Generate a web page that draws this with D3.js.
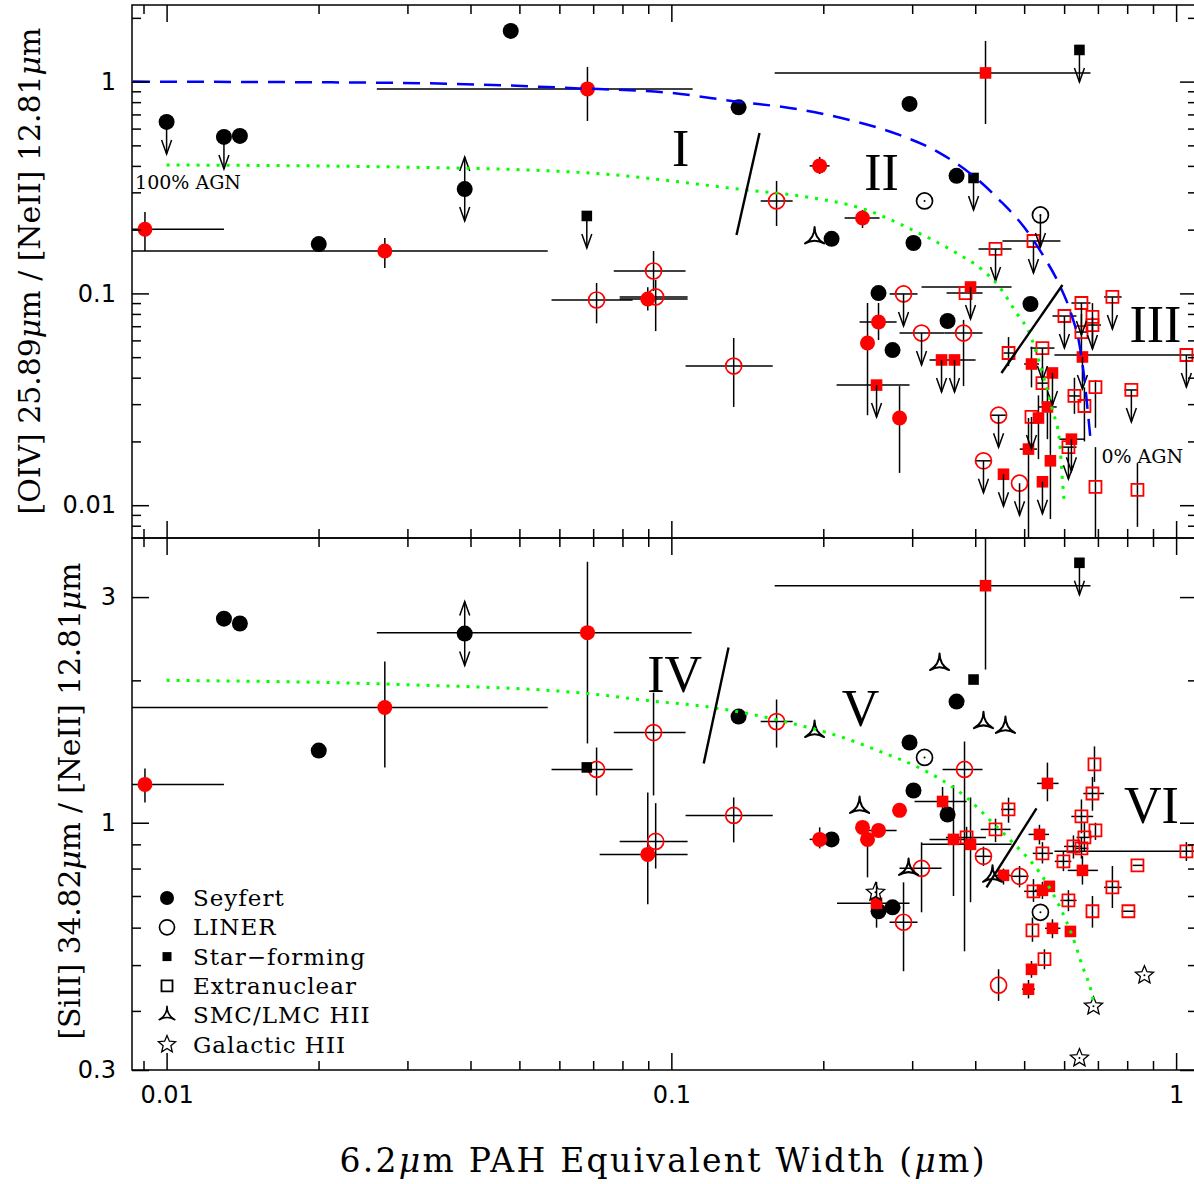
<!DOCTYPE html>
<html>
<head>
<meta charset="utf-8">
<script src="https://cdn.jsdelivr.net/npm/d3@7"></script>
<style>
body { margin: 0; background: #fff; }
svg { display: block; }
.ax line { stroke: #000; stroke-width: 1.5; }
</style>
</head>
<body>
<div id="body"></div>
<script>
// rows: [ew, ratio, colour, ewLo, ewHi, ratioLo, ratioHi, limit]  (0 = no error; 'd' = upper limit, 'b' = both)
const oivSeyfert = [
    [0.0100, 0.645, 'k', 0, 0, 0, 0, 'd'], [0.01299, 0.548, 'k', 0, 0, 0, 0, 'd'], [0.01397, 0.554, 'k'],
    [0.04806, 1.736, 'k'], [0.03896, 0.311, 'k', 0, 0, 0, 0, 'b'], [0.02002, 0.171, 'k'],
    [0.1359, 0.756, 'k'], [0.2964, 0.785, 'k'], [0.3673, 0.359, 'k'], [0.3018, 0.173, 'k'],
    [0.2077, 0.181, 'k'], [0.2573, 0.1004, 'k'], [0.2743, 0.054, 'k'], [0.3526, 0.0741, 'k'], [0.5146, 0.0891, 'k'],
    [0.00906, 0.201, 'r', 0.0085, 0.01299, 0.1586, 0.242], [0.02706, 0.1586, 'r', 0.0085, 0.0569, 0.1318, 0.1827],
    [0.0682, 0.924, 'r', 0.02609, 0.1102, 0.652, 1.173], [0.1967, 0.400, 'r', 0.1879, 0.2058, 0.366, 0.441],
    [0.2392, 0.227, 'r', 0.2204, 0.2585, 0.2037, 0.2477], [0.2573, 0.0733, 'r', 0.2360, 0.2794, 0.0602, 0.0901],
    [0.2447, 0.0583, 'r', 0, 0, 0.0266, 0.0901], [0.2832, 0.0258, 'r', 0, 0, 0.0142, 0.0365],
    [0.0898, 0.0941, 'r', 0.0790, 0.1077, 0.083, 0.107]
];
const oivLiner = [
    [0.3174, 0.2732, 'k'], [0.5385, 0.2346, 'k', 0, 0, 0, 0, 'd'],
    [0.1616, 0.2732, 'r', 0.1503, 0.1739, 0.2081, 0.3396], [0.0922, 0.1276, 'r', 0.0769, 0.1067, 0.1026, 0.1586],
    [0.0711, 0.0931, 'r', 0.0579, 0.0838, 0.0722, 0.112], [0.0931, 0.0962, 'r', 0.0790, 0.1077, 0.0664, 0.1157],
    [0.1329, 0.0454, 'r', 0.1067, 0.1588, 0.0291, 0.0616], [0.2884, 0.0994, 'r', 0.2706, 0.3074, 0, 0, 'd'],
    [0.3131, 0.0650, 'r', 0.2832, 0.3477, 0, 0, 'd'], [0.3792, 0.0650, 'r', 0.3477, 0.4135, 0.0365, 0.075],
    [0.4449, 0.0266, 'r', 0.43, 0.46, 0, 0, 'd'], [0.4153, 0.0162, 'r', 0.40, 0.43, 0, 0, 'd'],
    [0.4896, 0.0127, 'r', 0, 0, 0, 0, 'd']
];
const oivStarForming = [
    [0.6434, 1.411, 'k', 0, 0, 0, 0, 'd'], [0.3969, 0.3508, 'k', 0, 0, 0, 0, 'd'], [0.0680, 0.2321, 'k', 0, 0, 0, 0, 'd'],
    [0.4192, 1.099, 'r', 0.1602, 0.6766, 0.631, 1.557], [0.3915, 0.1072, 'r', 0.3131, 0.4720, 0, 0, 'd'],
    [0.2550, 0.0369, 'r', 0.2125, 0.2964, 0, 0, 'd'], [0.3430, 0.0485, 'r', 0.3247, 0.4006, 0, 0, 'd'],
    [0.3639, 0.0485, 'r', 0, 0, 0, 0, 'd'], [0.5170, 0.0464, 'r', 0.50, 0.535, 0.036, 0.056],
    [0.5689, 0.0421, 'r', 0, 0, 0, 0, 'd'], [0.5560, 0.0291, 'r', 0.535, 0.58, 0.0205, 0.036],
    [0.5337, 0.0258, 'r', 0, 0, 0.0165, 0.033], [0.5100, 0.0184, 'r', 0.49, 0.53, 0.007, 0.0258],
    [0.5636, 0.0162, 'r', 0, 0, 0.0086, 0.0291], [0.4550, 0.0140, 'r', 0, 0, 0, 0, 'd'],
    [0.5435, 0.0129, 'r', 0, 0, 0, 0, 'd'], [0.6203, 0.0205, 'r', 0.5873, 0.6582, 0, 0, 'd'],
    [0.6523, 0.0501, 'r', 0, 0, 0, 0, 'd']
];
const oivExtranuclear = [
    [0.4388, 0.1621, 'r', 0.4060, 0.4720, 0, 0, 'd'], [0.5217, 0.1768, 'r', 0.4529, 0.5900, 0, 0, 'd'],
    [0.3827, 0.1004, 'r', 0.3510, 0.4135], [0.4656, 0.0523, 'r', 0.455, 0.4808, 0.0454, 0.0622],
    [0.5435, 0.0552, 'r', 0.5146, 0.5741, 0, 0, 'd'], [0.5435, 0.0377, 'r', 0.53, 0.56, 0.03, 0.045],
    [0.5170, 0.0261, 'r', 0, 0, 0, 0, 'd'], [0.6008, 0.0782, 'r', 0.5689, 0.6346, 0, 0, 'd'],
    [0.6493, 0.0901, 'r', 0.6203, 0.6766, 0, 0, 'd'], [0.6493, 0.0657, 'r', 0.63, 0.67, 0.05, 0.08],
    [0.6828, 0.0774, 'r', 0, 0, 0, 0, 'd'], [0.6828, 0.0709, 'r', 0.66, 0.71, 0.055, 0.09],
    [0.7478, 0.0962, 'r', 0.72, 0.78, 0, 0, 'd'], [0.6922, 0.0361, 'r', 0, 0, 0.0232, 0.0389],
    [0.6289, 0.0328, 'r', 0.61, 0.645, 0.027, 0.04], [0.6582, 0.0294, 'r', 0, 0, 0.02, 0.036],
    [0.8154, 0.0350, 'r', 0.79, 0.84, 0, 0, 'd'], [1.048, 0.0512, 'r', 0.5741, 1.3, 0, 0, 'd'],
    [0.6119, 0.0188, 'r', 0.59, 0.635, 0, 0, 'd'], [0.6922, 0.0122, 'r', 0, 0, 0.007, 0.0188],
    [0.8383, 0.0118, 'r', 0, 0, 0.0079, 0.0158]
];
const oivMagellanic = [[0.1922, 0.1827]];

const siiSeyfert = [
    [0.01299, 2.701, 'k'], [0.01397, 2.638, 'k'], [0.02002, 1.421, 'k'], [0.03896, 2.512, 'k', 0, 0, 0, 0, 'b'],
    [0.1359, 1.677, 'k'], [0.3673, 1.804, 'k'], [0.2964, 1.478, 'k'], [0.3018, 1.170, 'k'],
    [0.3526, 1.041, 'k'], [0.2077, 0.922, 'k'], [0.2743, 0.6625, 'k'], [0.2573, 0.6498, 'k'],
    [0.00906, 1.205, 'r', 0.0085, 0.01299, 1.104, 1.302], [0.02706, 1.752, 'r', 0.0085, 0.0569, 1.309, 2.192],
    [0.0682, 2.523, 'r', 0.02609, 0.1097, 1.471, 3.563], [0.0898, 0.857, 'r', 0.0721, 0.1077, 0.672, 1.159],
    [0.1967, 0.922, 'r', 0.1879, 0.2058, 0.8826, 0.9775], [0.2392, 0.9775, 'r'],
    [0.2447, 0.922, 'r', 0, 0, 0.7666, 0.98], [0.2573, 0.9634, 'r', 0.2360, 0.2794, 0, 0],
    [0.2832, 1.062, 'r']
];
const siiLiner = [
    [0.3174, 1.374, 'k'], [0.5385, 0.6466, 'k'],
    [0.0922, 1.551, 'r', 0.0769, 0.1067, 1.142, 1.884], [0.0711, 1.296, 'r', 0.0579, 0.0838, 1.142, 1.442],
    [0.1616, 1.636, 'r', 0.1503, 0.1739, 1.442, 1.822], [0.1329, 1.036, 'r', 0.1067, 0.1588, 0.9087, 1.131],
    [0.0931, 0.913, 'r', 0.0790, 0.1077, 0.80, 1.10], [0.3809, 1.296, 'r', 0.3446, 0.4135, 0.5347, 1.485],
    [0.3131, 0.8007, 'r', 0.2832, 0.3430, 0.6466, 0.9087], [0.2884, 0.616, 'r', 0.2706, 0.3074, 0.4853, 0.748],
    [0.4153, 0.849, 'r', 0.40, 0.43, 0.81, 0.89], [0.4896, 0.7703, 'r', 0.47, 0.51, 0.73, 0.81],
    [0.4449, 0.4533, 'r', 0, 0, 0.42, 0.49]
];
const siiStarForming = [
    [0.6434, 3.545, 'k', 0, 0, 0, 0, 'd'], [0.3969, 2.008, 'k'], [0.0680, 1.309, 'k'],
    [0.4192, 3.171, 'r', 0.1602, 0.6766, 2.108, 4.2], [0.3446, 1.109, 'r', 0.3032, 0.3845, 1.04, 1.19],
    [0.3622, 0.922, 'r', 0.3247, 0.40, 0.7, 1.2], [0.3915, 0.90, 'r', 0.3131, 0.472, 0.679, 1.131],
    [0.5560, 1.211, 'r', 0.53, 0.585, 1.11, 1.34], [0.5361, 0.9447, 'r', 0.51, 0.56, 0.9, 0.99],
    [0.6523, 0.7929, 'r', 0.61, 0.70, 0.74, 0.85], [0.4550, 0.774, 'r', 0.44, 0.47, 0.74, 0.80],
    [0.5435, 0.7195, 'r', 0.525, 0.56, 0.69, 0.75], [0.5610, 0.7336, 'r'],
    [0.5689, 0.598, 'r', 0.55, 0.59, 0.57, 0.625], [0.6175, 0.589, 'r'],
    [0.5170, 0.4898, 'r', 0.505, 0.53, 0.47, 0.51], [0.5100, 0.4446, 'r', 0.495, 0.525, 0.425, 0.465],
    [0.2550, 0.6755, 'r', 0.2129, 0.2964, 0.60, 0.75]
];
const siiExtranuclear = [
    [0.4656, 1.067, 'r', 0.45, 0.48, 1.0, 1.13], [0.4388, 0.968, 'r', 0.41, 0.47, 0.91, 1.02],
    [0.3845, 0.931, 'r', 0.35, 0.42, 0.88, 0.98], [0.5435, 0.8615, 'r', 0.52, 0.57, 0.82, 0.91],
    [0.5981, 0.8285, 'r', 0.575, 0.62, 0.79, 0.87], [0.5217, 0.716, 'r', 0.50, 0.545, 0.68, 0.76],
    [0.6119, 0.685, 'r', 0.59, 0.635, 0.65, 0.72], [0.6891, 1.328, 'r', 0, 0, 1.22, 1.45],
    [0.6828, 1.153, 'r', 0.655, 0.72, 1.06, 1.25], [0.6493, 1.031, 'r', 0.62, 0.685, 0.95, 1.12],
    [0.6582, 0.931, 'r', 0.635, 0.68, 0.87, 1.0], [0.6922, 0.9634, 'r', 0, 0, 0.92, 1.0],
    [0.6260, 0.891, 'r', 0.60, 0.65, 0.84, 0.94], [0.6493, 0.8826, 'r', 0.63, 0.67, 0.84, 0.93],
    [0.7478, 0.730, 'r', 0.72, 0.78, 0.66, 0.81], [0.6828, 0.6498, 'r', 0, 0, 0.60, 0.70],
    [0.8044, 0.6498, 'r', 0.78, 0.83, 0, 0], [0.8383, 0.8125, 'r', 0.82, 0.86, 0, 0],
    [1.048, 0.870, 'r', 0.5741, 1.3, 0.83, 0.91], [0.5485, 0.5145, 'r', 0, 0, 0.49, 0.54],
    [0.5193, 0.592, 'r', 0, 0, 0.56, 0.63]
];
const siiMagellanic = [[0.1922, 1.559], [0.3399, 2.160], [0.4153, 1.628], [0.4591, 1.590], [0.2360, 1.077], [0.2951, 0.7968], [0.4328, 0.7703]];
const siiGalactic = [[0.2538, 0.7125], [0.8655, 0.476], [0.6859, 0.4093], [0.6434, 0.3179]];

// mixing models
const oivMixBlue = [[0.00858, 1.0], [0.029, 0.986], [0.0658, 0.929], [0.1, 0.884], [0.136, 0.802], [0.1715, 0.751],
    [0.2254, 0.659], [0.283, 0.560], [0.3398, 0.461], [0.3986, 0.355], [0.4467, 0.276], [0.501, 0.204],
    [0.549, 0.147], [0.5875, 0.1096], [0.6207, 0.0791], [0.6437, 0.057], [0.6585, 0.039], [0.671, 0.0252], [0.677, 0.0203]];
const oivMixGreen = [[0.01, 0.404], [0.029, 0.395], [0.068, 0.371], [0.141, 0.3079], [0.1795, 0.2885], [0.2436, 0.2477],
    [0.3004, 0.1992], [0.3672, 0.1551], [0.4135, 0.129], [0.4467, 0.1072], [0.4828, 0.0808], [0.5123, 0.065],
    [0.5363, 0.0469], [0.5689, 0.0281], [0.5873, 0.0203], [0.5955, 0.0131], [0.601, 0.01]];
const siiMixGreen = [[0.01, 2.0], [0.029, 1.96], [0.0683, 1.876], [0.0898, 1.813], [0.1207, 1.752], [0.177, 1.613],
    [0.2155, 1.522], [0.262, 1.408], [0.306, 1.315], [0.3445, 1.228], [0.3844, 1.131], [0.4329, 1.0],
    [0.474, 0.909], [0.5363, 0.785], [0.5873, 0.666], [0.6232, 0.575], [0.6524, 0.497], [0.6797, 0.438], [0.689, 0.409]];

// region dividers and labels
const oivDividers = [[[0.1346, 0.1888], [0.1495, 0.5724]], [[0.4508, 0.0421], [0.5954, 0.1096]]];
const siiDividers = [[[0.1159, 1.334], [0.1298, 2.346]], [[0.421, 0.730], [0.529, 1.072]]];
const oivRegions = [['I', 0.1043, 0.40], ['II', 0.2608, 0.3077], ['III', 0.910, 0.0589]];
const siiRegions = [['IV', 0.1015, 1.894], ['V', 0.237, 1.605], ['VI', 0.8935, 0.9966]];

const xMajor = [0.01, 0.1, 1];
const xMinor = [0.009, 0.02, 0.03, 0.04, 0.05, 0.06, 0.07, 0.08, 0.09, 0.2, 0.3, 0.4, 0.5, 0.6, 0.7, 0.8, 0.9];
const oivMajor = [0.01, 0.1, 1];
const oivMinor = [0.008, 0.009, 0.02, 0.03, 0.04, 0.05, 0.06, 0.07, 0.08, 0.09, 0.2, 0.3, 0.4, 0.5, 0.6, 0.7, 0.8, 0.9, 2];
const siiMajor = [0.3, 1, 3];
const siiMinor = [0.4, 0.5, 0.6, 0.7, 0.8, 0.9, 2];

const legendItems = [['sey', 'Seyfert'], ['lin', 'LINER'], ['sf', 'Star\u2212forming'], ['ext', 'Extranuclear'], ['mc', 'SMC/LMC HII'], ['gal', 'Galactic HII']];

const W = 1194, H = 1184;
const X0 = 132, X1 = 1197, TOP = 5, MID = 538, BOT = 1070;
const RED = '#ff0000';

const x = d3.scaleLog().domain([0.00854, 1.1]).range([X0, X1]);
const yTop = d3.scaleLog().domain([0.007, 2.3]).range([MID, TOP]);
const yBot = d3.scaleLog().domain([0.3, 4.0]).range([BOT, MID]);

const svg = d3.select('#body').append('svg').attr('width', W).attr('height', H);
const defs = svg.append('defs');
defs.append('clipPath').attr('id', 'clipTop').append('rect')
    .attr('x', X0).attr('y', TOP).attr('width', X1 - X0).attr('height', MID - TOP);
defs.append('clipPath').attr('id', 'clipBot').append('rect')
    .attr('x', X0).attr('y', MID).attr('width', X1 - X0).attr('height', BOT - MID);

function symbolPath(type, s) {
    if (type === 'sey' || type === 'lin') {
        return `M${-s},0a${s},${s} 0 1,0 ${2 * s},0a${s},${s} 0 1,0 ${-2 * s},0`;
    }
    if (type === 'sf' || type === 'ext') {
        return `M${-s},${-s}h${2 * s}v${2 * s}h${-2 * s}Z`;
    }
    if (type === 'mc') {
        // three-pointed figure with concave sides
        let pts = [-90, 30, 150].map(a => [s * Math.cos(a * Math.PI / 180), s * Math.sin(a * Math.PI / 180)]);
        return `M${pts[0]}Q0,0 ${pts[1]}Q0,0 ${pts[2]}Q0,0 ${pts[0]}Z`;
    }
    // star
    let p = [];
    for (let i = 0; i < 10; i++) {
        let r = i % 2 ? s * 0.45 : s;
        let a = (-90 + i * 36) * Math.PI / 180;
        p.push([r * Math.cos(a), r * Math.sin(a)]);
    }
    return 'M' + p.join('L') + 'Z';
}

function drawMarker(g, type, cx, cy, col, legend) {
    const c = col === 'r' ? RED : '#000';
    let m = g.append('path').attr('transform', `translate(${cx},${cy})`);
    if (type === 'sey') {
        m.attr('d', symbolPath(type, legend ? 7 : (col === 'r' ? 7.5 : 8))).attr('fill', c);
    } else if (type === 'lin') {
        m.attr('d', symbolPath(type, legend ? 7.5 : 8)).attr('fill', 'none').attr('stroke', c).attr('stroke-width', 1.7);
        if (col !== 'r' && !legend) g.append('circle').attr('cx', cx).attr('cy', cy).attr('r', 1).attr('fill', '#000');
    } else if (type === 'sf') {
        m.attr('d', symbolPath(type, legend ? 4.5 : (col === 'r' ? 5.8 : 5.3))).attr('fill', c);
    } else if (type === 'ext') {
        m.attr('d', symbolPath(type, legend ? 5.5 : 6)).attr('fill', 'none').attr('stroke', c).attr('stroke-width', 1.8);
    } else if (type === 'mc') {
        m.attr('d', symbolPath(type, legend ? 9 : 11)).attr('fill', 'none').attr('stroke', '#000')
            .attr('stroke-width', legend ? 1.6 : 2).attr('stroke-linejoin', 'round');
    } else {
        m.attr('d', symbolPath(type, legend ? 9 : 9.5)).attr('fill', 'none').attr('stroke', '#000').attr('stroke-width', 1.3);
        if (!legend) g.append('circle').attr('cx', cx).attr('cy', cy).attr('r', 1).attr('fill', '#000');
    }
}

function drawArrow(g, cx, cy, dir) {
    const L = 32;
    g.append('line').attr('x1', cx).attr('y1', cy).attr('x2', cx).attr('y2', cy + dir * L);
    g.append('path').attr('fill', 'none')
        .attr('d', `M${cx - 5},${cy + dir * (L - 14)}L${cx},${cy + dir * L}L${cx + 5},${cy + dir * (L - 14)}`);
}

function tickAxis(axisFn, scale, values, size, transform, fmt) {
    const g = svg.append('g').attr('class', 'ax').attr('transform', transform);
    const a = axisFn(scale).tickValues(values).tickSize(-size).tickSizeOuter(0);
    if (fmt) a.tickPadding(16).tickFormat(fmt); else a.tickFormat('');
    g.call(a);
    g.select('.domain').remove();
    g.attr('font-family', '"DejaVu Sans", sans-serif').attr('font-size', 24);
    g.selectAll('text').attr('fill', '#000');
    return g;
}

function renderPanel(cfg) {
    const y = cfg.y;
    const g = svg.append('g').attr('clip-path', `url(#${cfg.clip})`);
    const rows = [];
    cfg.groups.forEach(([data, type]) => data.forEach(r => rows.push({
        type, x: r[0], y: r[1], c: r[2] || 'k', xlo: r[3], xhi: r[4], ylo: r[5], yhi: r[6], lim: r[7]
    })));

    const eb = g.append('g').attr('stroke', '#000').attr('stroke-width', 1.5);
    rows.filter(d => d.xlo).forEach(d => eb.append('line')
        .attr('x1', x(d.xlo)).attr('x2', x(d.xhi)).attr('y1', y(d.y)).attr('y2', y(d.y)));
    rows.filter(d => d.ylo).forEach(d => eb.append('line')
        .attr('x1', x(d.x)).attr('x2', x(d.x)).attr('y1', y(d.ylo)).attr('y2', y(d.yhi)));

    const mk = g.append('g');
    rows.forEach(d => drawMarker(mk, d.type, x(d.x), y(d.y), d.c, false));

    const ar = g.append('g').attr('stroke', '#000').attr('stroke-width', 1.5);
    rows.filter(d => d.lim).forEach(d => {
        drawArrow(ar, x(d.x), y(d.y), 1);
        if (d.lim === 'b') drawArrow(ar, x(d.x), y(d.y), -1);
    });

    const line = d3.line().x(d => x(d[0])).y(d => y(d[1])).curve(d3.curveMonotoneX);
    if (cfg.blue) g.append('path').datum(cfg.blue).attr('d', line).attr('fill', 'none')
        .attr('stroke', '#0000ff').attr('stroke-width', 2.5).attr('stroke-dasharray', '17,10');
    g.append('path').datum(cfg.green).attr('d', line).attr('fill', 'none')
        .attr('stroke', '#00ff00').attr('stroke-width', 3).attr('stroke-dasharray', '3,7');

    cfg.dividers.forEach(s => g.append('line')
        .attr('x1', x(s[0][0])).attr('y1', y(s[0][1])).attr('x2', x(s[1][0])).attr('y2', y(s[1][1]))
        .attr('stroke', '#000').attr('stroke-width', 2.4));

    cfg.regions.forEach(r => svg.append('text').attr('x', x(r[1])).attr('y', y(r[2]))
        .attr('text-anchor', 'middle').attr('font-family', '"Liberation Serif", serif').attr('font-size', 52)
        .attr('fill', '#000').text(r[0]));

    // frame ticks
    const y0 = y.range()[0], y1 = y.range()[1];
    tickAxis(d3.axisLeft, y, cfg.major, 17, `translate(${X0},0)`, cfg.fmt);
    tickAxis(d3.axisLeft, y, cfg.minor, 9, `translate(${X0},0)`);
    tickAxis(d3.axisRight, y, cfg.major, 17, `translate(${X1},0)`);
    tickAxis(d3.axisRight, y, cfg.minor, 9, `translate(${X1},0)`);
    tickAxis(d3.axisTop, x, xMajor, 17, `translate(0,${y1})`);
    tickAxis(d3.axisTop, x, xMinor, 9, `translate(0,${y1})`);
    tickAxis(d3.axisBottom, x, xMajor, 17, `translate(0,${y0})`, cfg.xLabels ? d => String(d) : null);
    tickAxis(d3.axisBottom, x, xMinor, 9, `translate(0,${y0})`);
    svg.append('rect').attr('x', X0).attr('y', y1).attr('width', X1 - X0).attr('height', y0 - y1)
        .attr('fill', 'none').attr('stroke', '#000').attr('stroke-width', 1.5);
}

renderPanel({
    y: yTop, clip: 'clipTop',
    groups: [[oivSeyfert, 'sey'], [oivLiner, 'lin'], [oivStarForming, 'sf'], [oivExtranuclear, 'ext'], [oivMagellanic, 'mc']],
    blue: oivMixBlue, green: oivMixGreen, dividers: oivDividers, regions: oivRegions,
    major: oivMajor, minor: oivMinor, fmt: d => String(d), xLabels: false
});
renderPanel({
    y: yBot, clip: 'clipBot',
    groups: [[siiSeyfert, 'sey'], [siiLiner, 'lin'], [siiStarForming, 'sf'], [siiExtranuclear, 'ext'], [siiMagellanic, 'mc'], [siiGalactic, 'gal']],
    blue: null, green: siiMixGreen, dividers: siiDividers, regions: siiRegions,
    major: siiMajor, minor: siiMinor, fmt: d => String(d), xLabels: true
});

// AGN fraction notes
svg.append('text').attr('x', x(0.00866)).attr('y', yTop(0.3113))
    .attr('font-family', '"DejaVu Serif", serif').attr('font-size', 19).attr('fill', '#000').text('100% AGN');
svg.append('text').attr('x', x(0.7112)).attr('y', yTop(0.0158))
    .attr('font-family', '"DejaVu Serif", serif').attr('font-size', 19).attr('fill', '#000').text('0% AGN');

// legend
const leg = svg.append('g');
legendItems.forEach((item, i) => {
    const cy = 898 + i * 29.3;
    drawMarker(leg, item[0], 167, cy, 'k', true);
    leg.append('text').attr('x', 193).attr('y', cy + 8)
        .attr('font-family', '"DejaVu Serif", serif').attr('font-size', 23).attr('letter-spacing', 1)
        .attr('fill', '#000').text(item[1]);
});

// axis titles
function title(parts, transform, len, size) {
    const t = svg.append('text').attr('transform', transform).attr('text-anchor', 'middle')
        .attr('font-family', '"DejaVu Serif", serif').attr('font-size', size).attr('fill', '#000')
        .attr('textLength', len).attr('lengthAdjust', 'spacing');
    parts.forEach(p => {
        const ts = t.append('tspan').text(p);
        if (p === '\u03bc') ts.attr('font-style', 'italic');
    });
}
title(['[OIV] 25.89', '\u03bc', 'm / [NeII] 12.81', '\u03bc', 'm'], 'translate(40,271) rotate(-90)', 487, 30);
title(['[SiII] 34.82', '\u03bc', 'm / [NeII] 12.81', '\u03bc', 'm'], 'translate(80,801) rotate(-90)', 477, 30);
title(['6.2', '\u03bc', 'm PAH Equivalent Width (', '\u03bc', 'm)'], 'translate(662,1172)', 645, 33);
</script>
</body>
</html>
